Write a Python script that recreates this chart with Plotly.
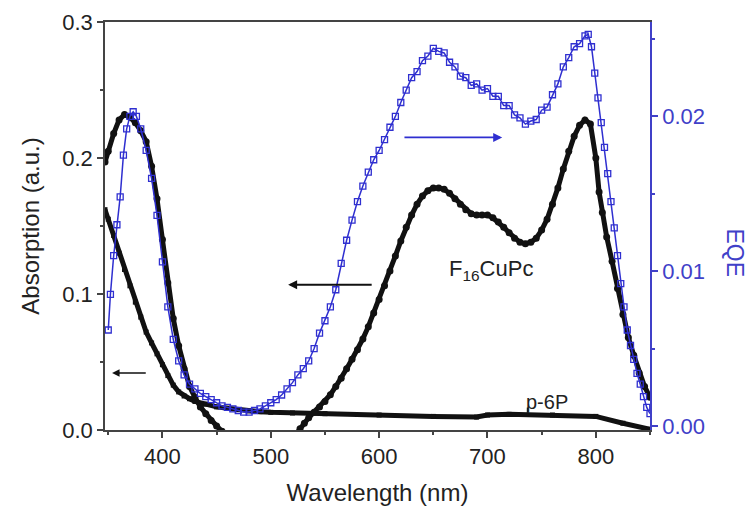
import plotly.graph_objects as go

# ---------------- data ----------------
f16_wl = [347, 350, 355, 360, 365, 370, 375, 380, 385, 390, 395, 400, 405, 410, 415, 420,
          425, 430, 435, 440, 445, 450, 455, 460, 465, 475, 490, 505, 515, 522,
          527, 531, 535, 540, 545, 550, 555, 560, 565, 570, 575, 580, 585, 590, 595, 600,
          605, 610, 615, 620, 625, 630, 635, 640, 645, 650, 655, 660, 665, 670, 675,
          680, 685, 690, 695, 700, 705, 710, 715, 720, 725, 730, 735, 740, 745, 750,
          755, 760, 765, 770, 775, 780, 785, 790, 795, 800, 803, 806, 810, 815, 820,
          825, 830, 835, 840, 845, 850]
f16_abs = [0.197, 0.205, 0.218, 0.228, 0.232, 0.230, 0.226, 0.220, 0.212, 0.194, 0.170, 0.140,
           0.108, 0.082, 0.062, 0.045, 0.032, 0.024, 0.017, 0.012, 0.007, 0.003, -0.001, -0.005,
           -0.012, -0.020, -0.025, -0.020, -0.012, -0.004,
           0.001, 0.005, 0.009, 0.013, 0.017, 0.021, 0.026, 0.032, 0.038, 0.045, 0.052, 0.059, 0.067,
           0.076, 0.086, 0.096, 0.106, 0.117, 0.128, 0.139, 0.149, 0.158, 0.166, 0.172, 0.176,
           0.178, 0.178, 0.177, 0.174, 0.170, 0.166, 0.162, 0.159, 0.158, 0.158, 0.158, 0.156,
           0.153, 0.149, 0.145, 0.141, 0.138, 0.137, 0.138, 0.141, 0.147, 0.155, 0.166, 0.178,
           0.192, 0.205, 0.216, 0.224, 0.228, 0.225, 0.200, 0.175, 0.160, 0.142, 0.124, 0.104,
           0.085, 0.068, 0.055, 0.042, 0.032, 0.024]

p6p_wl = [347, 350, 355, 360, 365, 370, 375, 380, 385, 390, 395, 400, 405, 410, 415, 420,
          425, 430, 440, 450, 460, 470, 480, 490, 500, 520, 550, 600, 650, 690, 700,
          720, 760, 800, 825, 850]
p6p_abs = [0.162, 0.155, 0.143, 0.130, 0.118, 0.106, 0.094, 0.083, 0.072, 0.064, 0.056, 0.048,
           0.040, 0.033, 0.028, 0.025, 0.023, 0.021, 0.019, 0.017, 0.016, 0.015, 0.014, 0.0135,
           0.013, 0.0125, 0.012, 0.011, 0.010, 0.0095, 0.011, 0.0115, 0.011, 0.010, 0.005, 0.0005]

eqe_wl = [350, 352, 355, 358, 361, 364, 367, 370, 373, 376, 380, 385, 390, 395, 400, 405, 410,
          415, 420, 425, 430, 435, 440, 445, 450, 455, 460, 465, 470, 475, 480, 485, 490, 495,
          500, 505, 510, 515, 520, 525, 530, 535, 540, 545, 550, 555, 560, 565, 570, 575, 580,
          585, 590, 595, 600, 605, 610, 615, 620, 625, 630, 635, 640, 645, 650, 655, 660, 665,
          670, 675, 680, 685, 690, 695, 700, 705, 710, 715, 720, 725, 730, 735, 740, 745, 750,
          755, 760, 765, 770, 775, 780, 785, 790, 793, 796, 799, 802, 805, 808, 811, 814, 817,
          820, 823, 826, 829, 832, 835, 838, 841, 844, 847, 850]
eqe_val = [0.0062, 0.0085, 0.0110, 0.0130, 0.0148, 0.0175, 0.0192, 0.0200, 0.0203, 0.0200,
           0.0192, 0.0178, 0.0160, 0.0136, 0.0106, 0.0077, 0.0056, 0.0042, 0.0033, 0.0027,
           0.0024, 0.0021, 0.0019, 0.0017, 0.0015, 0.0013, 0.0012, 0.0011, 0.0010, 0.0009,
           0.0009, 0.0010, 0.0011, 0.0013, 0.0015, 0.0017, 0.0020, 0.0024, 0.0028, 0.0033,
           0.0037, 0.0042, 0.0050, 0.0060, 0.0068, 0.0077, 0.0088, 0.0105, 0.0120, 0.0133,
           0.0145, 0.0155, 0.0164, 0.0172, 0.0178, 0.0185, 0.0193, 0.0200, 0.0209, 0.0217,
           0.0225, 0.0229, 0.0236, 0.0239, 0.0244, 0.0242, 0.0241, 0.0235, 0.0232, 0.0226,
           0.0225, 0.0220, 0.0221, 0.0217, 0.0218, 0.0213, 0.0213, 0.0207, 0.0207, 0.0201,
           0.0199, 0.0195, 0.0197, 0.0198, 0.0204, 0.0206, 0.0214, 0.0221, 0.0232, 0.0238,
           0.0245, 0.0247, 0.0252, 0.0253, 0.0245, 0.0228, 0.0212, 0.0196, 0.0180, 0.0163,
           0.0145, 0.0128, 0.0110, 0.0092, 0.0077, 0.0062, 0.0052, 0.0043, 0.0034, 0.0027,
           0.0019, 0.0012, 0.0008]

x_ticks = [400, 500, 600, 700, 800]
y_ticks = [0.0, 0.1, 0.2, 0.3]
y2_ticks = [0.00, 0.01, 0.02]

BLACK = "#111111"
AXIS = "#444444"
BLUE = "#2f2fd0"
BLUE_AX = "#4040c8"
FONT = "Liberation Sans, Arial, sans-serif"

fig = go.Figure()

fig.add_trace(go.Scatter(x=p6p_wl, y=p6p_abs, mode="lines+markers",
                         line=dict(color=BLACK, width=5),
                         marker=dict(symbol="square", size=5, color=BLACK),
                         showlegend=False))
fig.add_trace(go.Scatter(x=f16_wl, y=f16_abs, mode="lines+markers",
                         line=dict(color=BLACK, width=5),
                         marker=dict(symbol="circle", size=7, color=BLACK),
                         showlegend=False))
fig.add_trace(go.Scatter(x=eqe_wl, y=eqe_val, mode="lines+markers", yaxis="y2",
                         line=dict(color=BLUE, width=1.5),
                         marker=dict(symbol="square-open", size=6, color=BLUE,
                                     line=dict(width=1.3, color=BLUE)),
                         showlegend=False))

fig.update_layout(
    width=751, height=506,
    margin=dict(l=105, r=101, t=22, b=76),
    paper_bgcolor="white", plot_bgcolor="white",
    font=dict(family=FONT, color="#222222", size=22),
    xaxis=dict(range=[347, 850], tickvals=x_ticks, ticks="outside", ticklen=6, tickwidth=1.5,
               tickcolor=AXIS, showline=True, linecolor=AXIS, linewidth=1.5, mirror=True,
               showgrid=False, zeroline=False, automargin=False,
               minor=dict(dtick=50, tick0=350, ticks="outside", ticklen=3, tickcolor=AXIS),
               title=dict(text="Wavelength (nm)", font=dict(size=24), standoff=16),
               tickfont=dict(size=22)),
    yaxis=dict(range=[0, 0.3], tickvals=y_ticks, tickformat=".1f", ticks="outside", ticklen=6,
               tickwidth=1.5, tickcolor=AXIS, showline=True, linecolor=AXIS, linewidth=1.5,
               showgrid=False, zeroline=False, automargin=False,
               minor=dict(dtick=0.05, tick0=0, ticks="outside", ticklen=3, tickcolor=AXIS),
               title=dict(text="Absorption (a.u.)", font=dict(size=24), standoff=16),
               tickfont=dict(size=22)),
    yaxis2=dict(range=[-0.00026, 0.0261], overlaying="y", side="right", tickvals=y2_ticks,
                tickformat=".2f", ticks="outside", ticklen=6, tickwidth=1.5, tickcolor=BLUE_AX,
                showline=True, linecolor=BLUE_AX, linewidth=1.5, showgrid=False, zeroline=False,
                automargin=False,
                minor=dict(dtick=0.005, tick0=0, ticks="outside", ticklen=3, tickcolor=BLUE_AX),
                tickfont=dict(size=22, color=BLUE_AX)),
)

# EQE axis title
fig.add_annotation(text="EQE", xref="paper", yref="paper", x=1.156, y=0.435,
                   xanchor="center", yanchor="middle",
                   textangle=90, showarrow=False, font=dict(size=23, color=BLUE_AX))

# text labels
fig.add_annotation(text="F<sub>16</sub>CuPc", x=663, y=0.118, xref="x", yref="y",
                   xanchor="left", yanchor="middle", showarrow=False,
                   font=dict(size=22, color="#222222"))
fig.add_annotation(text="p-6P", x=734, y=0.0205, xref="x", yref="y",
                   xanchor="left", yanchor="middle", showarrow=False,
                   font=dict(size=20, color="#222222"))
fig.add_shape(type="line", x0=737, x1=737, y0=0.0105, y1=0.0165, xref="x", yref="y",
              line=dict(color=BLACK, width=1.5))

# arrows
fig.add_annotation(x=713.6, y=0.01864, ax=622, ay=0.01864, xref="x", yref="y2",
                   axref="x", ayref="y2", text="", showarrow=True, arrowhead=2,
                   arrowsize=1, arrowwidth=1.8, arrowcolor=BLUE)
fig.add_annotation(x=516, y=0.1068, ax=594.5, ay=0.1068, xref="x", yref="y",
                   axref="x", ayref="y", text="", showarrow=True, arrowhead=2,
                   arrowsize=1, arrowwidth=1.8, arrowcolor=BLACK)
fig.add_annotation(x=353.5, y=0.042, ax=386, ay=0.042, xref="x", yref="y",
                   axref="x", ayref="y", text="", showarrow=True, arrowhead=2,
                   arrowsize=1, arrowwidth=1.5, arrowcolor=BLACK)

fig.write_html("out.html")
